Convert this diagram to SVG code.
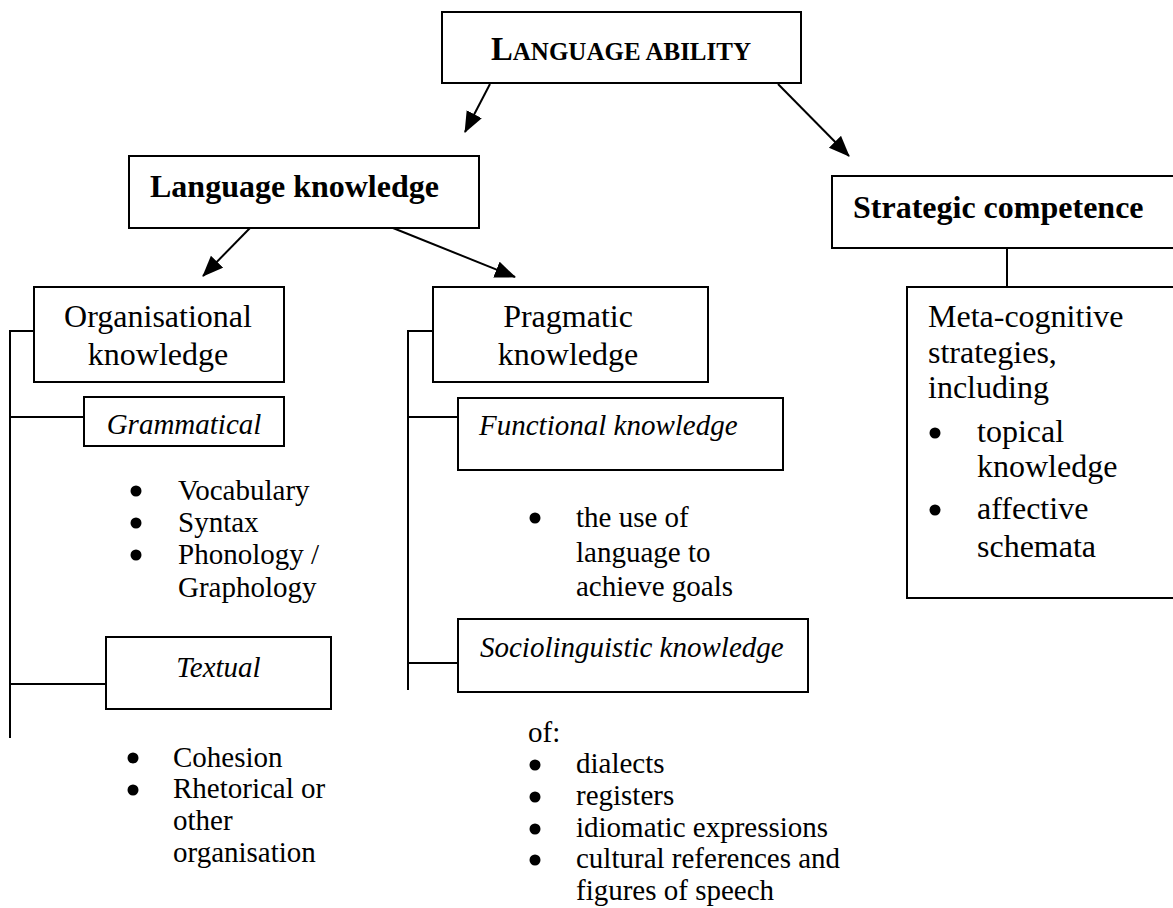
<svg xmlns="http://www.w3.org/2000/svg" width="1173" height="908" viewBox="0 0 1173 908">
<defs>
<style>
.box{fill:#fff;stroke:#000;stroke-width:2}
.ln{fill:none;stroke:#000;stroke-width:2}
text{font-family:"Liberation Serif","Times New Roman",serif;fill:#000}
.b{font-weight:bold;font-size:32px}
.r{font-size:32px}
.i{font-style:italic;font-size:29px}
.s{font-size:29px}
.bul{fill:#000}
</style>
<marker id="ah" markerUnits="userSpaceOnUse" markerWidth="24" markerHeight="20" refX="20" refY="8.5" orient="auto">
<path d="M0,0 L21,8.5 L0,17 z" fill="#000"/>
</marker>
</defs>
<rect width="1173" height="908" fill="#fff"/>

<g id="connectors">
<line class="ln" x1="490" y1="84" x2="465" y2="132" marker-end="url(#ah)"/>
<line class="ln" x1="778" y1="84" x2="849" y2="156" marker-end="url(#ah)"/>
<line class="ln" x1="250" y1="228" x2="203" y2="276" marker-end="url(#ah)"/>
<line class="ln" x1="393" y1="228" x2="515" y2="277" marker-end="url(#ah)"/>
<path class="ln" d="M34,331 H10 V738 M10,417 H84 M10,684 H106"/>
<path class="ln" d="M433,331 H408 V690 M408,417 H458 M408,663 H458"/>
<path class="ln" d="M1007,244 V292"/>
</g>

<g id="language-ability">
<rect class="box" x="442" y="12" width="359" height="71"/>
<text x="621" y="60" text-anchor="middle" font-weight="bold" textLength="260" lengthAdjust="spacingAndGlyphs"><tspan font-size="34">L</tspan><tspan font-size="26">ANGUAGE ABILITY</tspan></text>
</g>

<g id="language-knowledge">
<rect class="box" x="129" y="156" width="350" height="72"/>
<text class="b" x="150" y="197">Language knowledge</text>
</g>

<g id="strategic-competence">
<rect class="box" x="832" y="176" width="360" height="72"/>
<text class="b" x="853" y="218">Strategic competence</text>
</g>

<g id="organisational">
<rect class="box" x="34" y="287" width="250" height="95"/>
<text class="r" x="158" y="327" text-anchor="middle">Organisational</text>
<text class="r" x="158" y="365" text-anchor="middle">knowledge</text>
</g>

<g id="pragmatic">
<rect class="box" x="433" y="287" width="275" height="95"/>
<text class="r" x="568" y="327" text-anchor="middle">Pragmatic</text>
<text class="r" x="568" y="365" text-anchor="middle">knowledge</text>
</g>

<g id="grammatical">
<rect class="box" x="84" y="397" width="200" height="49"/>
<text class="i" x="184" y="434" text-anchor="middle">Grammatical</text>
</g>

<g id="grammatical-list">
<circle class="bul" cx="136" cy="491" r="5.5"/>
<circle class="bul" cx="136" cy="523" r="5.5"/>
<circle class="bul" cx="136" cy="555" r="5.5"/>
<text class="s" x="178" y="500">Vocabulary</text>
<text class="s" x="178" y="532">Syntax</text>
<text class="s" x="178" y="564">Phonology /</text>
<text class="s" x="178" y="597">Graphology</text>
</g>

<g id="textual">
<rect class="box" x="106" y="637" width="225" height="72"/>
<text class="i" x="218.5" y="677" text-anchor="middle">Textual</text>
</g>

<g id="textual-list">
<circle class="bul" cx="133" cy="758" r="5.5"/>
<circle class="bul" cx="133" cy="790" r="5.5"/>
<text class="s" x="173" y="767">Cohesion</text>
<text class="s" x="173" y="798">Rhetorical or</text>
<text class="s" x="173" y="830">other</text>
<text class="s" x="173" y="862">organisation</text>
</g>

<g id="functional">
<rect class="box" x="458" y="398" width="325" height="72"/>
<text class="i" x="479" y="435">Functional knowledge</text>
</g>

<g id="functional-list">
<circle class="bul" cx="535" cy="518" r="5.5"/>
<text class="s" x="576" y="527">the use of</text>
<text class="s" x="576" y="562">language to</text>
<text class="s" x="576" y="596">achieve goals</text>
</g>

<g id="sociolinguistic">
<rect class="box" x="458" y="619" width="350" height="73"/>
<text class="i" x="480" y="657">Sociolinguistic knowledge</text>
</g>

<g id="sociolinguistic-list">
<text class="s" x="528" y="742">of:</text>
<circle class="bul" cx="535" cy="765" r="5.5"/>
<circle class="bul" cx="535" cy="797" r="5.5"/>
<circle class="bul" cx="535" cy="829" r="5.5"/>
<circle class="bul" cx="535" cy="860" r="5.5"/>
<text class="s" x="576" y="773">dialects</text>
<text class="s" x="576" y="805">registers</text>
<text class="s" x="576" y="837">idiomatic expressions</text>
<text class="s" x="576" y="868">cultural references and</text>
<text class="s" x="576" y="900">figures of speech</text>
</g>

<g id="meta-cognitive">
<rect class="box" x="907" y="287" width="300" height="311"/>
<text class="r" x="928" y="327">Meta-cognitive</text>
<text class="r" x="928" y="363">strategies,</text>
<text class="r" x="928" y="398">including</text>
<circle class="bul" cx="935" cy="433" r="5.5"/>
<text class="r" x="977" y="442">topical</text>
<text class="r" x="977" y="477">knowledge</text>
<circle class="bul" cx="935" cy="510" r="5.5"/>
<text class="r" x="977" y="519">affective</text>
<text class="r" x="977" y="557">schemata</text>
</g>
</svg>
